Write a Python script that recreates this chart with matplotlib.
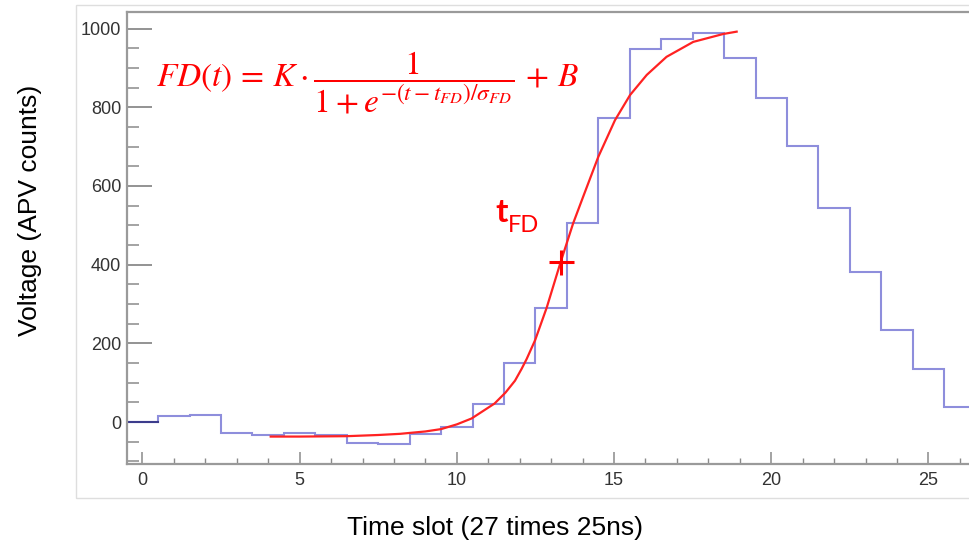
import matplotlib
matplotlib.use('Agg')
import matplotlib.pyplot as plt
from matplotlib.patches import Rectangle
from matplotlib.ticker import MultipleLocator

# ADC samples of one strip, 27 time slots of 25 ns
time_slots = list(range(27))
adc_counts = [0, 16, 18, -27, -34, -27, -33, -54, -56, -30, -12, 47, 149, 291,
              505, 772, 947, 973, 988, 925, 824, 701, 543, 381, 234, 135, 37]

# Fermi-Dirac fit curve
fit_t = [4.08, 5.0, 6.5, 7.5, 8.2, 9.0, 9.5, 10.0, 10.47, 11.2, 11.55, 11.85,
         12.06, 12.22, 12.49, 12.86, 13.3, 13.7, 14.02, 14.5, 15.03, 15.51,
         16.04, 16.67, 17.52, 18.47, 18.9]
fit_v = [-37, -37, -36, -33, -30, -24, -18, -6, 9, 47, 75, 105,
         135, 160, 208, 291, 406, 505, 573, 674, 767, 831,
         882, 928, 966, 986, 992]

# t_FD marker
t_fd = 13.3
v_fd = 406

W, H = 969, 547


def fx(x):
    return x / W


def fy(y):
    return 1 - y / H


plt.rcParams['mathtext.fontset'] = 'stix'
plt.rcParams['font.family'] = ['Liberation Sans', 'DejaVu Sans']

fig = plt.figure(figsize=(W / 100, H / 100), dpi=100)

# light frame of the pasted canvas
fig.add_artist(Rectangle((fx(76), fy(498)), fx(W + 10 - 76), (498 - 5) / H,
                         transform=fig.transFigure, fill=False,
                         edgecolor='#dedede', lw=1.0))

ax = fig.add_axes([fx(126.7), fy(464), fx(W - 126.7), (464 - 11.7) / H])
ax.set_xlim(-0.5, 26.29)
ax.set_ylim(-106.7, 1042.7)

for side in ['left', 'bottom', 'top']:
    ax.spines[side].set_color('#9a9a9a')
    ax.spines[side].set_linewidth(1.6)
ax.spines['right'].set_visible(False)

ax.xaxis.set_major_locator(MultipleLocator(5))
ax.xaxis.set_minor_locator(MultipleLocator(1))
ax.yaxis.set_major_locator(MultipleLocator(200))
ax.yaxis.set_minor_locator(MultipleLocator(50))

ax.tick_params(axis='y', which='major', direction='in', length=18, width=1.3,
               color='#8a8a8a', pad=4, labelsize=13, labelcolor='#333333')
ax.tick_params(axis='y', which='minor', direction='in', length=8.5, width=1.1,
               color='#8a8a8a')
ax.tick_params(axis='x', which='major', direction='in', length=8.5, width=1.1,
               color='#8a8a8a', pad=6, labelsize=13, labelcolor='#333333')
ax.tick_params(axis='x', which='minor', direction='in', length=4, width=1.0,
               color='#8a8a8a')

# histogram
edges = [s - 0.5 for s in time_slots] + [time_slots[-1] + 0.5]
ax.stairs(adc_counts, edges, baseline=None, color='#8e8edc', lw=1.5)
ax.plot(edges[:2], [adc_counts[0]] * 2, color='#3c3c8c', lw=1.5)

# fit
ax.plot(fit_t, fit_v, color='#ff2222', lw=1.6)
ax.plot(t_fd, v_fd, marker='+', ms=18, mew=2.2, color='red')

# formula and label
formula = (r'$FD(t)\,=\,K\cdot\dfrac{1}{1+e^{-(t-t_{FD})/\sigma_{FD}}}\,+\,B$')
fig.text(fx(156), fy(83), formula, fontsize=24, color='red', ha='left', va='center')
fig.text(fx(495), fy(222), 't', fontsize=24, fontweight='bold', color='red',
         family='Lato', ha='left', va='baseline')
fig.text(fx(508), fy(232), 'FD', fontsize=17, color='red', family='Lato',
         ha='left', va='baseline')

fig.text(fx(495), fy(528), 'Time slot (27 times 25ns)', ha='center', va='center',
         fontsize=19)
fig.text(fx(30), fy(210), 'Voltage (APV counts)', ha='center', va='center',
         rotation=90, fontsize=19)

fig.savefig('out.png', dpi=100)
